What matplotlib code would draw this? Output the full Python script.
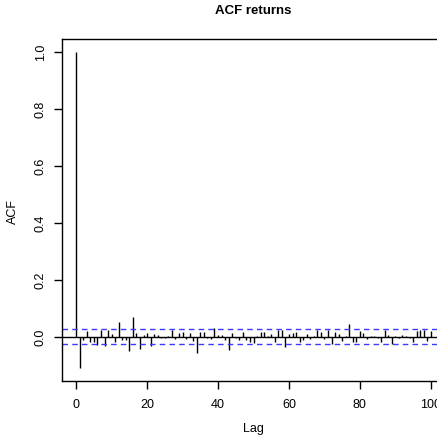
import matplotlib
matplotlib.use('Agg')
import matplotlib.pyplot as plt
import numpy as np

## R-like look
plt.rcParams['font.family'] = ['Liberation Sans', 'DejaVu Sans']
plt.rcParams['font.size'] = 9

## ACF values, lags 0..100
lags = np.arange(0, 101)
acf_vals = [
    1.0, -0.111, -0.010, 0.021, -0.019, -0.019, -0.028, 0.025, -0.034, 0.025,
    0.009, -0.020, 0.052, -0.012, -0.010, -0.050, 0.068, 0.014, -0.044, 0.006,
    0.012, -0.032, 0.008, 0.006, -0.005, -0.004, 0.003, 0.023, -0.009, 0.014,
    0.015, -0.009, 0.014, -0.015, -0.056, 0.016, 0.016, -0.006, -0.009, 0.031,
    0.006, 0.005, -0.012, -0.046, 0.012, -0.006, -0.012, 0.017, -0.010, -0.019,
    -0.021, 0.003, 0.017, 0.015, 0.003, 0.009, -0.017, 0.023, 0.023, -0.037,
    0.008, 0.014, 0.017, -0.017, -0.012, 0.009, -0.009, 0.003, 0.025, 0.017,
    -0.009, 0.025, -0.026, 0.017, 0.009, -0.014, 0.003, 0.043, -0.017, -0.017,
    0.021, 0.012, -0.009, 0.003, 0.004, -0.003, -0.020, 0.023, 0.006, -0.026,
    0.003, -0.003, 0.006, 0.002, -0.003, -0.020, 0.021, 0.025, 0.025, -0.014,
    0.021,
]
ci = 0.027  # 95% band

W, H = 437, 439
fig = plt.figure(figsize=(W / 100, H / 100), dpi=100)
## box from x=62..445 px, y=40..382 px (right side cut off like the original)
ax = fig.add_axes([62 / W, 1 - 382 / H, 383 / W, 342 / H])

## spikes
ax.vlines(lags, 0, acf_vals, color='black', linewidth=1.0)
ax.axhline(0, color='black', linewidth=1.0)
ax.axhline(ci, color='#3b3bff', linestyle=(0, (4, 3)), linewidth=1.0)
ax.axhline(-ci, color='#3b3bff', linestyle=(0, (4, 3)), linewidth=1.0)

ax.set_xlim(-4, 104)
ax.set_ylim(-0.1555, 1.0444)

ax.set_xticks([0, 20, 40, 60, 80, 100])
ax.set_yticks([0.0, 0.2, 0.4, 0.6, 0.8, 1.0])
ax.set_yticklabels(['0.0', '0.2', '0.4', '0.6', '0.8', '1.0'], rotation=90, va='center')
ax.tick_params(direction='out', length=5.5, width=1)
ax.tick_params(axis='x', pad=7)
ax.tick_params(axis='y', pad=5.5)

for s in ax.spines.values():
    s.set_linewidth(1.0)

## axis titles and main title placed like R's mgp / mtext lines
fig.text((62 + 445) / 2 / W, 1 - 429 / H, 'Lag', ha='center', va='center')
fig.text(13 / W, 1 - 211 / H, 'ACF', ha='center', va='center', rotation=90)
fig.text((62 + 445) / 2 / W, 1 - 11 / H, 'ACF returns', ha='center', va='center',
         fontweight='bold', fontsize=9.5)

fig.savefig('out.png', dpi=100)
